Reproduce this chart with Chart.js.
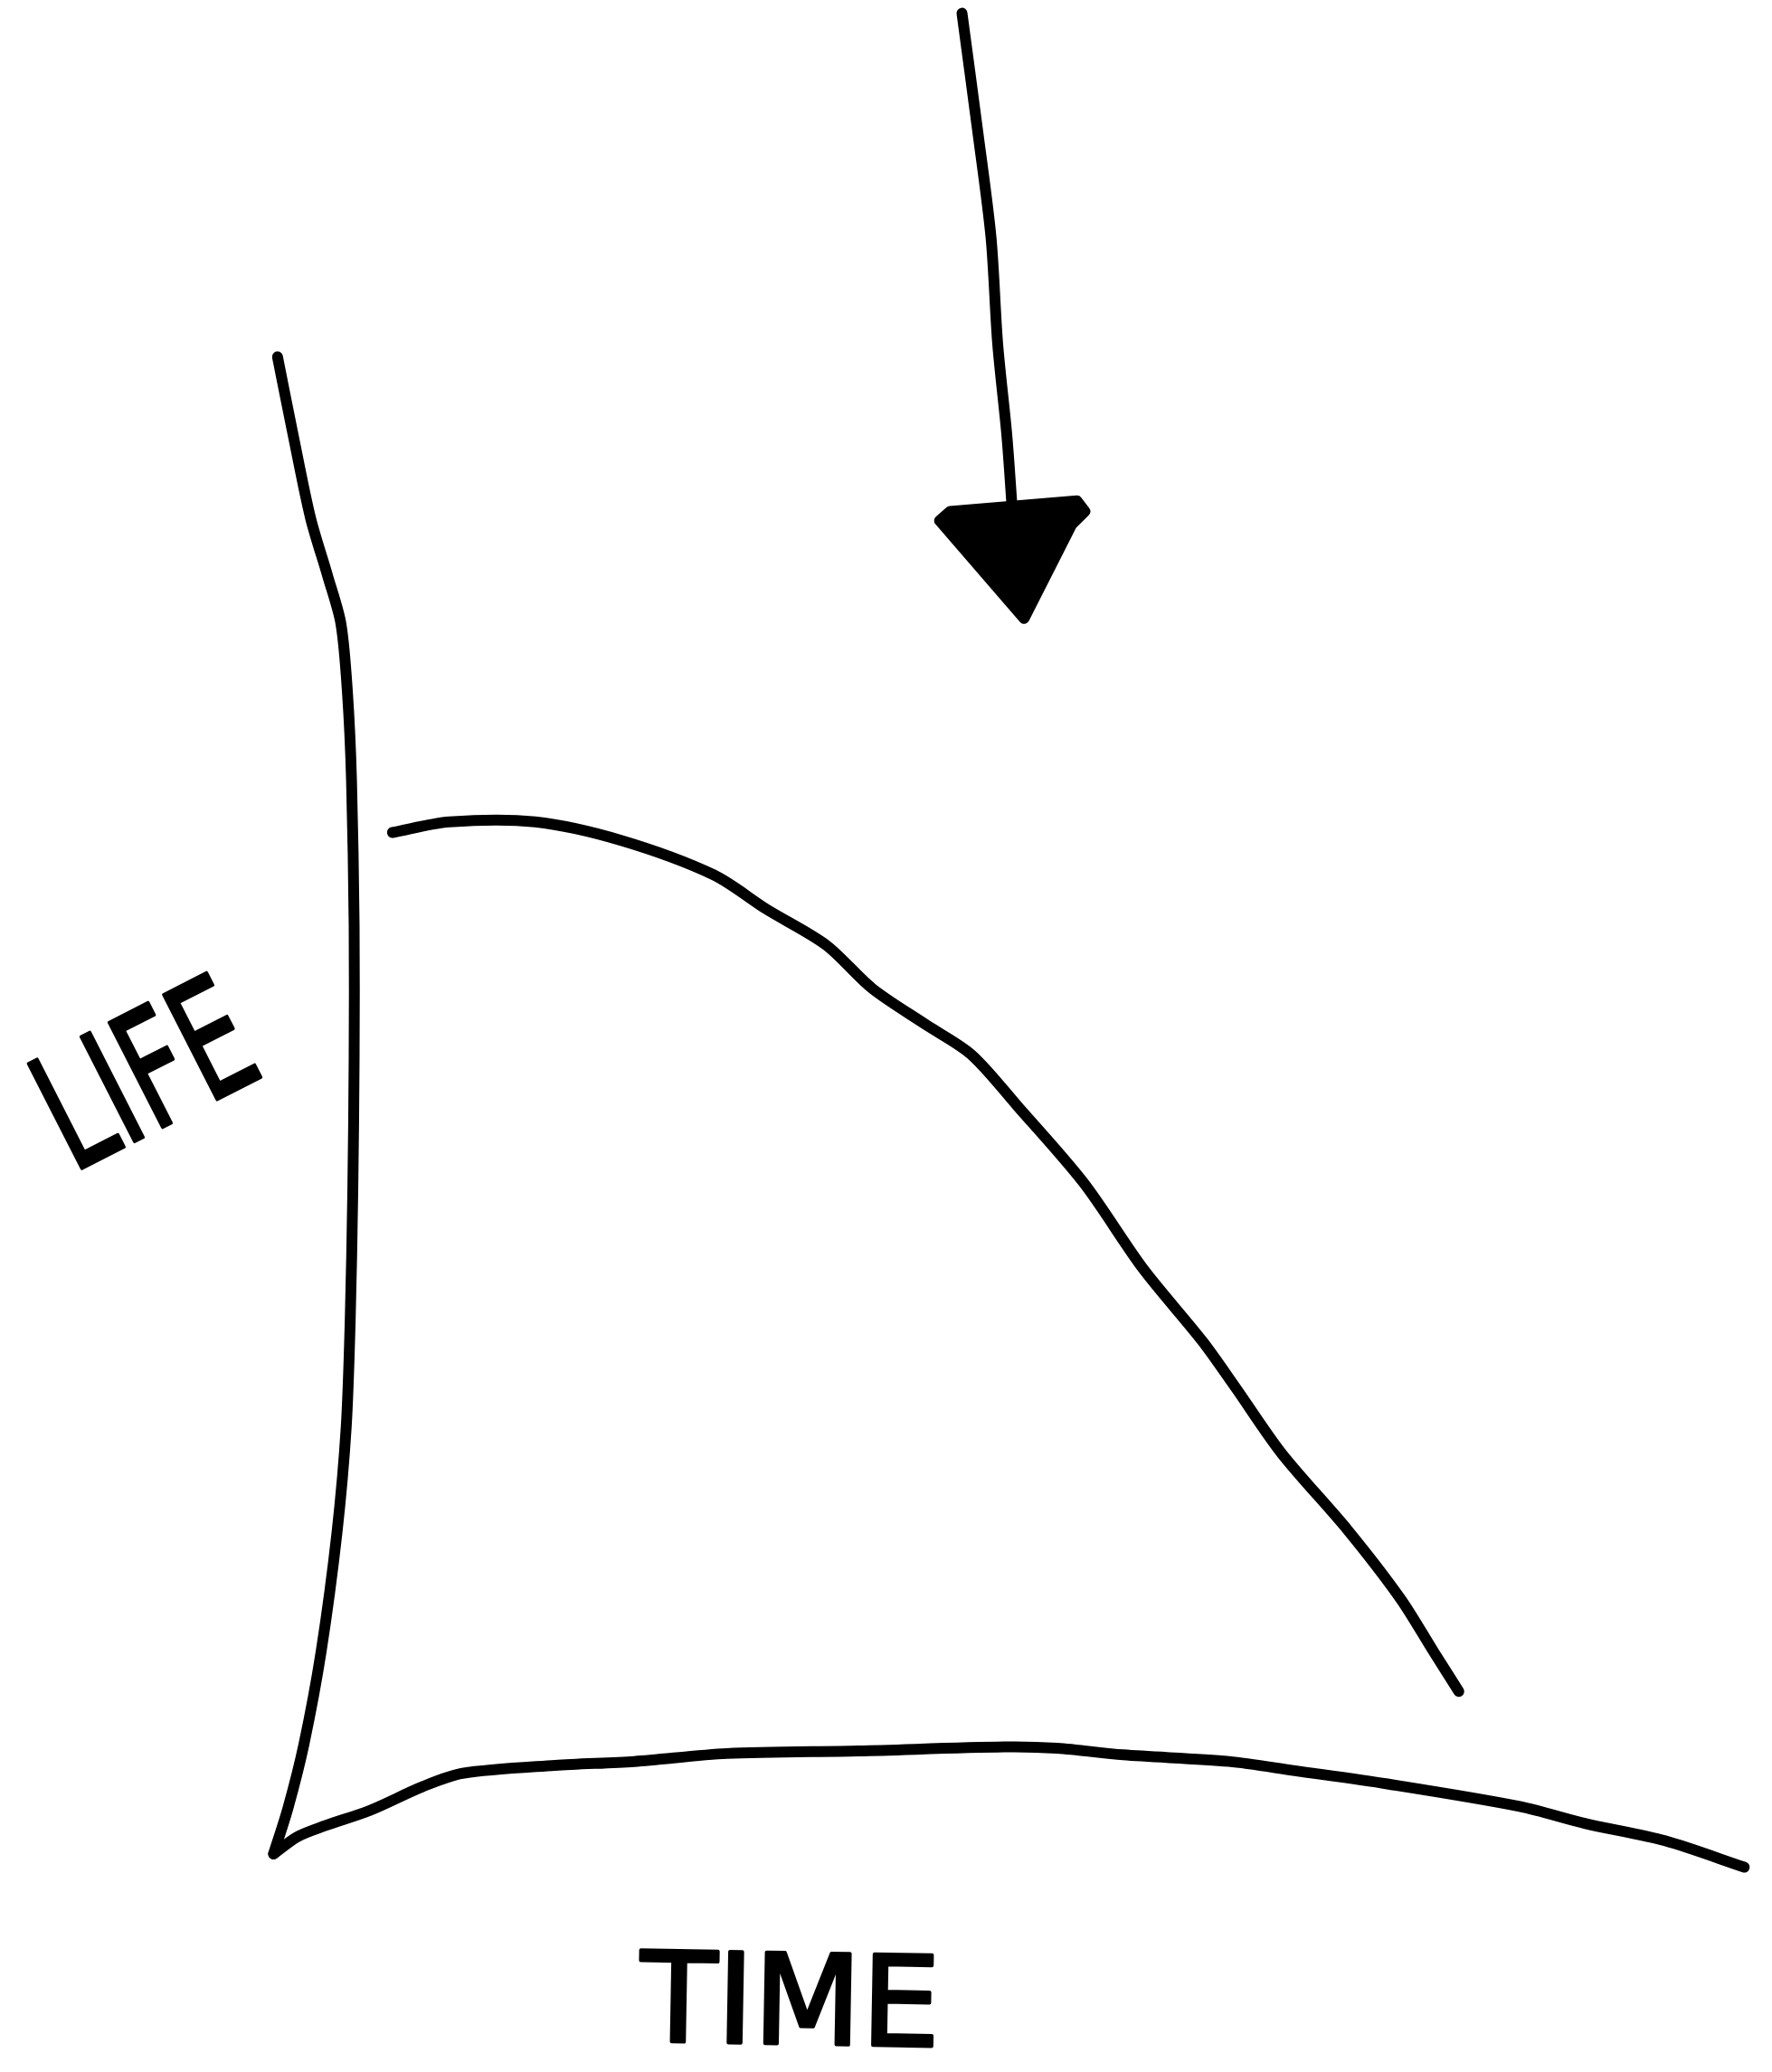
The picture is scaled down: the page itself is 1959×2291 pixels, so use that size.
<!DOCTYPE html>
<html>
<head>
<meta charset="utf-8">
<title>Life over time</title>
<script src="https://cdn.jsdelivr.net/npm/chart.js@4/dist/chart.umd.min.js"></script>
<style>
    html, body { margin: 0; padding: 0; background: #fff; }
    #wrap { width: 1959px; height: 2291px; position: relative; }
</style>
</head>
<body>
<div id="wrap"><canvas id="sketch"></canvas></div>
<script>
// Sketch coordinates (x to the right, y downwards, 1341 x 1568 frame)
const lifeAxis = [
    [210, 270], [222, 330], [235, 392], [248, 436], [258, 472], [263, 525], [266, 590],
    [268, 700], [268, 800], [267, 900], [265, 1000], [262, 1080], [255, 1160],
    [243, 1250], [230, 1320], [218, 1368], [207, 1403]
];
const timeAxis = [
    [207, 1403], [225, 1390], [245, 1382], [280, 1370], [320, 1352], [350, 1342], [420, 1336],
    [480, 1333], [550, 1327], [650, 1325], [760, 1322], [800, 1323], [850, 1328], [930, 1333],
    [980, 1340], [1050, 1350], [1150, 1367], [1200, 1380], [1260, 1393], [1320, 1413]
];
const lifeCurve = [
    [297, 630], [340, 622], [405, 622], [470, 636], [540, 662], [580, 688], [625, 715],
    [660, 748], [700, 775], [735, 798], [770, 837], [820, 895], [865, 960], [910, 1015],
    [935, 1050], [970, 1100], [1020, 1158], [1060, 1210], [1085, 1250], [1104, 1280]
];
const arrowShaft = [
    [728, 10], [740, 100], [750, 180], [755, 260], [762, 330], [766, 385]
];
const arrowHead = [
    [711, 394], [719, 387], [815, 379], [821, 387], [811, 397], [775, 468], [711, 394]
];
const axisLabels = ['LIFE', 'TIME'];
const labelAnchors = [[114, 822], [598, 1522]];

const frameWidth = 1341;
const frameHeight = 1568;
const ink = '#000000';

document.addEventListener('DOMContentLoaded', () => {
    const ctx = document.getElementById('sketch').getContext('2d');

    const toPoints = pairs => pairs.map(([x, y]) => ({ x, y }));

    function stroke(pairs, extra) {
        return Object.assign({
            data: toPoints(pairs),
            showLine: true,
            borderColor: ink,
            borderWidth: 12,
            borderCapStyle: 'round',
            borderJoinStyle: 'round',
            pointRadius: 0,
            tension: 0.3,
            fill: false,
            clip: false,
        }, extra);
    }

    // hand lettering, drawn at data positions
    const letteringPlugin = {
        id: 'lettering',
        afterDatasetsDraw(chart) {
            const c = chart.ctx;
            const xs = chart.scales.x;
            const ys = chart.scales.y;
            const styles = [
                { size: 178, rotate: -27, squeeze: 0.66 },
                { size: 138, rotate: 1, squeeze: 1 },
            ];
            axisLabels.forEach((text, i) => {
                const [ax, ay] = labelAnchors[i];
                const s = styles[i];
                c.save();
                c.translate(xs.getPixelForValue(ax), ys.getPixelForValue(ay));
                c.rotate(s.rotate * Math.PI / 180);
                c.scale(s.squeeze, 1);
                c.font = `${s.size}px "DejaVu Sans"`;
                c.fillStyle = ink;
                c.strokeStyle = ink;
                c.lineWidth = 4;
                c.lineJoin = 'round';
                c.textAlign = 'center';
                c.textBaseline = 'middle';
                c.fillText(text, 0, 0);
                c.strokeText(text, 0, 0);
                c.restore();
            });
        }
    };

    new Chart(ctx, {
        type: 'scatter',
        data: {
            datasets: [
                stroke(lifeAxis),
                stroke(timeAxis),
                stroke(lifeCurve),
                stroke(arrowShaft),
                stroke(arrowHead, { tension: 0, fill: 'shape', backgroundColor: ink }),
            ],
        },
        options: {
            responsive: true,
            maintainAspectRatio: false,
            animation: false,
            layout: { padding: 0 },
            plugins: {
                legend: { display: false },
                tooltip: { enabled: false },
            },
            scales: {
                x: { type: 'linear', min: 0, max: frameWidth, display: false },
                y: { type: 'linear', min: 0, max: frameHeight, reverse: true, display: false },
            },
        },
        plugins: [letteringPlugin],
    });
});
</script>
</body>
</html>
